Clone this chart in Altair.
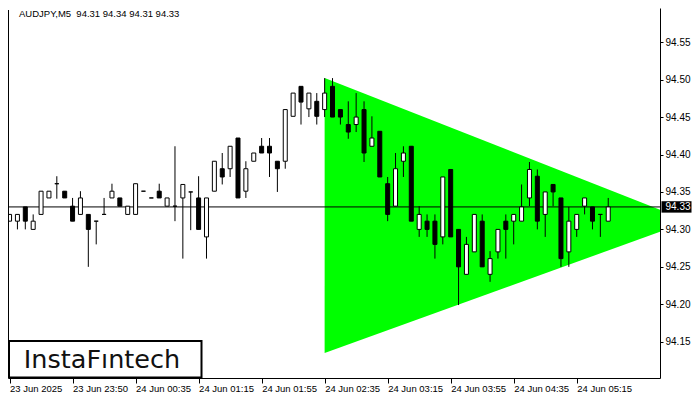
import altair as alt
import pandas as pd

# ---- data (AUDJPY, M5) ----
opens = [94.311, 94.311, 94.330, 94.300, 94.320, 94.342, 94.361, 94.351, 94.331, 94.320,
         94.320, 94.311, 94.320, 94.342, 94.342, 94.320, 94.320, 94.351, 94.342, 94.351,
         94.331, 94.331, 94.342, 94.350, 94.342, 94.290, 94.351, 94.381, 94.381, 94.422,
         94.351, 94.391, 94.411, 94.411, 94.391, 94.391, 94.451, 94.491, 94.461, 94.471,
         94.460, 94.491, 94.460, 94.440, 94.440, 94.460, 94.411, 94.431, 94.361, 94.331,
         94.391, 94.411, 94.300, 94.311, 94.311, 94.290, 94.380, 94.300, 94.240, 94.270,
         94.311, 94.240, 94.270, 94.311, 94.311, 94.311, 94.342, 94.371, 94.320, 94.360,
         94.342, 94.270, 94.300, 94.331, 94.330, 94.320, 94.311]
highs = [94.320, 94.320, 94.330, 94.320, 94.351, 94.351, 94.371, 94.351, 94.342, 94.351,
         94.320, 94.311, 94.342, 94.361, 94.342, 94.331, 94.361, 94.351, 94.342, 94.361,
         94.342, 94.411, 94.360, 94.350, 94.371, 94.342, 94.391, 94.402, 94.411, 94.422,
         94.391, 94.402, 94.422, 94.422, 94.391, 94.460, 94.482, 94.491, 94.482, 94.482,
         94.502, 94.502, 94.460, 94.471, 94.482, 94.471, 94.451, 94.431, 94.370, 94.402,
         94.411, 94.411, 94.331, 94.320, 94.320, 94.370, 94.380, 94.300, 94.290, 94.320,
         94.320, 94.271, 94.300, 94.320, 94.320, 94.360, 94.390, 94.380, 94.350, 94.360,
         94.342, 94.330, 94.320, 94.342, 94.330, 94.320, 94.342]
lows = [94.311, 94.300, 94.300, 94.300, 94.320, 94.342, 94.341, 94.342, 94.311, 94.320,
        94.250, 94.280, 94.320, 94.342, 94.331, 94.320, 94.320, 94.351, 94.342, 94.342,
        94.331, 94.311, 94.261, 94.299, 94.300, 94.261, 94.351, 94.360, 94.370, 94.342,
        94.342, 94.391, 94.402, 94.370, 94.350, 94.381, 94.451, 94.440, 94.450, 94.440,
        94.450, 94.450, 94.440, 94.421, 94.430, 94.390, 94.411, 94.370, 94.311, 94.331,
        94.370, 94.311, 94.290, 94.290, 94.261, 94.280, 94.290, 94.199, 94.240, 94.270,
        94.250, 94.230, 94.261, 94.261, 94.280, 94.311, 94.331, 94.300, 94.290, 94.331,
        94.250, 94.250, 94.290, 94.320, 94.300, 94.290, 94.311]
closes = [94.320, 94.320, 94.311, 94.311, 94.351, 94.351, 94.361, 94.342, 94.311, 94.342,
          94.300, 94.311, 94.320, 94.351, 94.331, 94.331, 94.361, 94.351, 94.342, 94.342,
          94.342, 94.331, 94.360, 94.350, 94.300, 94.342, 94.391, 94.370, 94.411, 94.342,
          94.381, 94.402, 94.402, 94.402, 94.381, 94.460, 94.482, 94.470, 94.482, 94.451,
          94.482, 94.450, 94.450, 94.430, 94.450, 94.402, 94.422, 94.370, 94.320, 94.381,
          94.402, 94.311, 94.320, 94.300, 94.280, 94.370, 94.290, 94.250, 94.280, 94.320,
          94.250, 94.261, 94.300, 94.300, 94.320, 94.330, 94.380, 94.311, 94.350, 94.350,
          94.261, 94.311, 94.320, 94.342, 94.311, 94.320, 94.330]

tick_index = [0, 8, 16, 24, 32, 40, 48, 56, 64, 72]
tick_labels = ["23 Jun 2025", "23 Jun 23:50", "24 Jun 00:35", "24 Jun 01:15", "24 Jun 01:55",
               "24 Jun 02:35", "24 Jun 03:15", "24 Jun 03:55", "24 Jun 04:35", "24 Jun 05:15"]
price_ticks = [94.15, 94.20, 94.25, 94.30, 94.35, 94.40, 94.45, 94.50, 94.55]

# symmetrical triangle pattern (bar index, upper edge, lower edge)
tri_x = [40, 86.3]
tri_top = [94.502, 94.311]
tri_bottom = [94.135, 94.311]

last_price = 94.33
symbol = "AUDJPY,M5"

# ---- tables ----
candles = pd.DataFrame({"i": list(range(len(opens))), "open": opens, "high": highs,
                        "low": lows, "close": closes})
tri = pd.DataFrame({"x": tri_x, "top": tri_top, "bottom": tri_bottom})
one = pd.DataFrame({"a": [0]})

FONT = "Liberation Sans"
x_scale = alt.Scale(domain=[0.4375, 81.9375], nice=False, zero=False)
y_scale = alt.Scale(domain=[94.1016, 94.5956], nice=False, zero=False)

label_expr = "[" + ",".join("'" + t + "'" for t in tick_labels) + "][round(datum.value / 8)]"
x_axis = alt.Axis(values=tick_index, labelExpr=label_expr, tickSize=5, labelPadding=0,
                  labelAlign="left", labelBaseline="top", labelFont=FONT, labelFontSize=9.5,
                  labelColor="black", tickColor="black", domainColor="black", grid=False,
                  title=None, labelOverlap=False, labelFlush=False)
y_axis = alt.Axis(orient="right", values=price_ticks, format=".2f", tickSize=3, labelPadding=2,
                  labelFont=FONT, labelFontSize=10, labelColor="black", tickColor="black",
                  domainColor="black", grid=False, title=None, labelOverlap=False)

triangle = alt.Chart(tri).mark_area(color="#00ff00", opacity=1, clip=True).encode(
    x=alt.X("x:Q", scale=x_scale, axis=x_axis),
    y=alt.Y("top:Q", scale=y_scale, axis=y_axis),
    y2="bottom:Q",
)

bid_line = alt.Chart(one).mark_rule(color="black", strokeWidth=1).encode(
    y=alt.datum(last_price)
)

wicks = alt.Chart(candles).mark_rule(color="black", strokeWidth=1, clip=True).encode(
    x=alt.X("i:Q", scale=x_scale, axis=x_axis),
    y=alt.Y("low:Q", scale=y_scale, axis=y_axis),
    y2="high:Q",
)

bodies = alt.Chart(candles).mark_bar(size=4, stroke="black", strokeWidth=1, clip=True).encode(
    x=alt.X("i:Q", scale=x_scale, axis=x_axis),
    y=alt.Y("open:Q", scale=y_scale, axis=y_axis),
    y2="close:Q",
    fill=alt.condition("datum.close < datum.open", alt.value("black"), alt.value("white")),
)

left_border = alt.Chart(one).mark_rule(color="black", strokeWidth=1).encode(
    x=alt.value(0.5), y=alt.value(2), y2=alt.value(370)
)

title_text = "{}\u00a0\u00a0{:.2f} {:.2f} {:.2f} {:.2f}".format(
    symbol, opens[-1], highs[-1], lows[-1], closes[-1])
title = alt.Chart(one).mark_text(text=title_text, font=FONT, fontSize=9.5, color="black",
                                 align="left", baseline="alphabetic").encode(
    x=alt.value(11), y=alt.value(9)
)

price_box = alt.Chart(one).mark_point(
    shape="M-1,-0.38L1,-0.38L1,0.38L-1,0.38Z", size=900, filled=True, color="black",
    opacity=1, strokeWidth=0).encode(
    x=alt.value(668.5), y=alt.datum(last_price)
)
price_text = alt.Chart(one).mark_text(text="{:.2f}".format(last_price), font=FONT, fontSize=10,
                                      color="white", align="left", baseline="middle").encode(
    x=alt.value(657.5), y=alt.datum(last_price)
)

logo_box = alt.Chart(one).mark_rect(fill="white", stroke="black", strokeWidth=2).encode(
    x=alt.value(1), x2=alt.value(193.5), y=alt.value(333), y2=alt.value(369.5)
)
logo_text = alt.Chart(one).mark_text(text="InstaF\u0131ntech", font="DejaVu Sans", fontSize=25.5,
                                     color="#111111", align="center",
                                     baseline="alphabetic").encode(
    x=alt.value(94), y=alt.value(359.5)
)

chart = alt.layer(
    triangle, bid_line, wicks, bodies, left_border, title, price_box, price_text,
    logo_box, logo_text
).properties(
    width=652, height=370,
    autosize=alt.AutoSizeParams(type="none"),
    padding={"left": 0, "top": 0, "right": 32, "bottom": 14},
    background="white",
).configure_view(stroke=None)

chart.save("out.html", embed_options={"renderer": "svg", "actions": False})
